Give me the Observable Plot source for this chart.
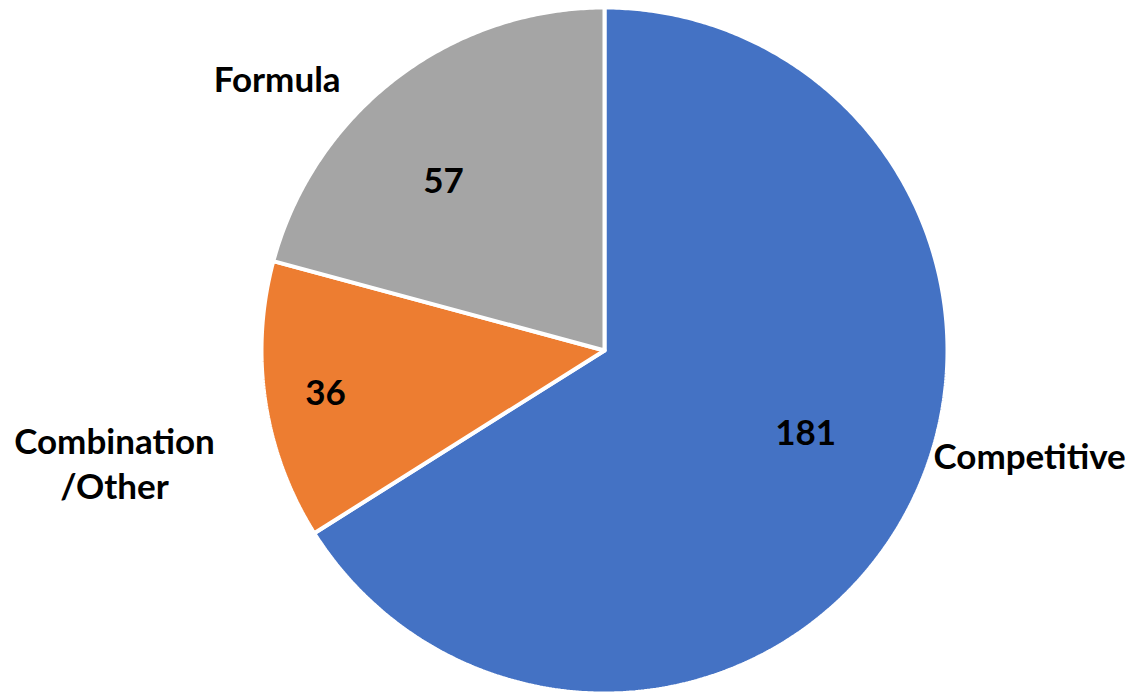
<!DOCTYPE html>
<html>
<head>
<meta charset="utf-8">
<script src="https://cdn.jsdelivr.net/npm/d3@7"></script>
<script src="https://cdn.jsdelivr.net/npm/@observablehq/plot@0.6"></script>
<style>
  html, body { margin: 0; padding: 0; background: #ffffff; }
  #chart { width: 1130px; height: 692px; }
</style>
</head>
<body>
<div id="chart"></div>
<script>
// ---- Data ----
const categories = ["Competitive", "Combination/Other", "Formula"];
const values = [181, 36, 57];
const nameLabels = ["Competitive", "Combination\n/Other", "Formula"];
const colors = ["#4472C4", "#ED7D31", "#A5A5A5"];

// ---- Layout (not data) ----
const W = 1130, H = 692;
const cx = 604, cy = 350, R = 343;          // pie centre & radius in pixels
// label placement: angle offset (deg) from slice mid-angle, radius as fraction of R
const valueLabelPos = [{da: -5.9, r: 0.637}, {da: -0.7, r: 0.824}, {da: -6.5, r: 0.676}];
const nameLabelPos  = [{da: -14.8, r: 1.278}, {da: -4.6, r: 1.467}, {da: -13.05, r: 1.237}];

const data = categories.map((c, i) => ({category: c, value: values[i], name: nameLabels[i]}));
const arcs = d3.pie().sort(null).value(d => d.value)(data);

// polygon points for each slice (unit circle, y up)
const pts = [];
arcs.forEach(a => {
  const c = a.data.category;
  pts.push({category: c, x: 0, y: 0});
  const n = Math.max(2, Math.ceil((a.endAngle - a.startAngle) / (Math.PI / 360)));
  for (let k = 0; k <= n; k++) {
    const t = a.startAngle + (a.endAngle - a.startAngle) * k / n;
    pts.push({category: c, x: Math.sin(t), y: Math.cos(t)});
  }
  pts.push({category: c, x: 0, y: 0});
});

const rad = deg => deg * Math.PI / 180;
const valueLabels = arcs.map((a, i) => {
  const mid = (a.startAngle + a.endAngle) / 2 + rad(valueLabelPos[i].da);
  return {text: String(a.data.value), x: valueLabelPos[i].r * Math.sin(mid), y: valueLabelPos[i].r * Math.cos(mid)};
});
const catLabels = arcs.map((a, i) => {
  const mid = (a.startAngle + a.endAngle) / 2 + rad(nameLabelPos[i].da);
  return {text: a.data.name, x: nameLabelPos[i].r * Math.sin(mid), y: nameLabelPos[i].r * Math.cos(mid)};
});

const font = "Lato, 'Open Sans', sans-serif";

const chart = Plot.plot({
  width: W,
  height: H,
  margin: 0,
  style: {background: "#ffffff", fontFamily: font},
  x: {domain: [-cx / R, (W - cx) / R], range: [0, W], axis: null},
  y: {domain: [-(H - cy) / R, cy / R], range: [H, 0], axis: null},
  color: {domain: categories, range: colors},
  marks: [
    Plot.line(pts, {x: "x", y: "y", z: "category", fill: "category", stroke: "#ffffff", strokeWidth: 4, strokeLinejoin: "miter", curve: "linear"}),
    Plot.text(valueLabels, {x: "x", y: "y", text: "text", fontSize: 35, fontWeight: "bold", fill: "#000000", fontFamily: font, dy: -2}),
    Plot.text(catLabels, {x: "x", y: "y", text: "text", fontSize: 35, fontWeight: "bold", fill: "#000000", lineHeight: 1.3, fontFamily: font, dy: -3})
  ]
});
document.getElementById("chart").appendChild(chart);
</script>
</body>
</html>
